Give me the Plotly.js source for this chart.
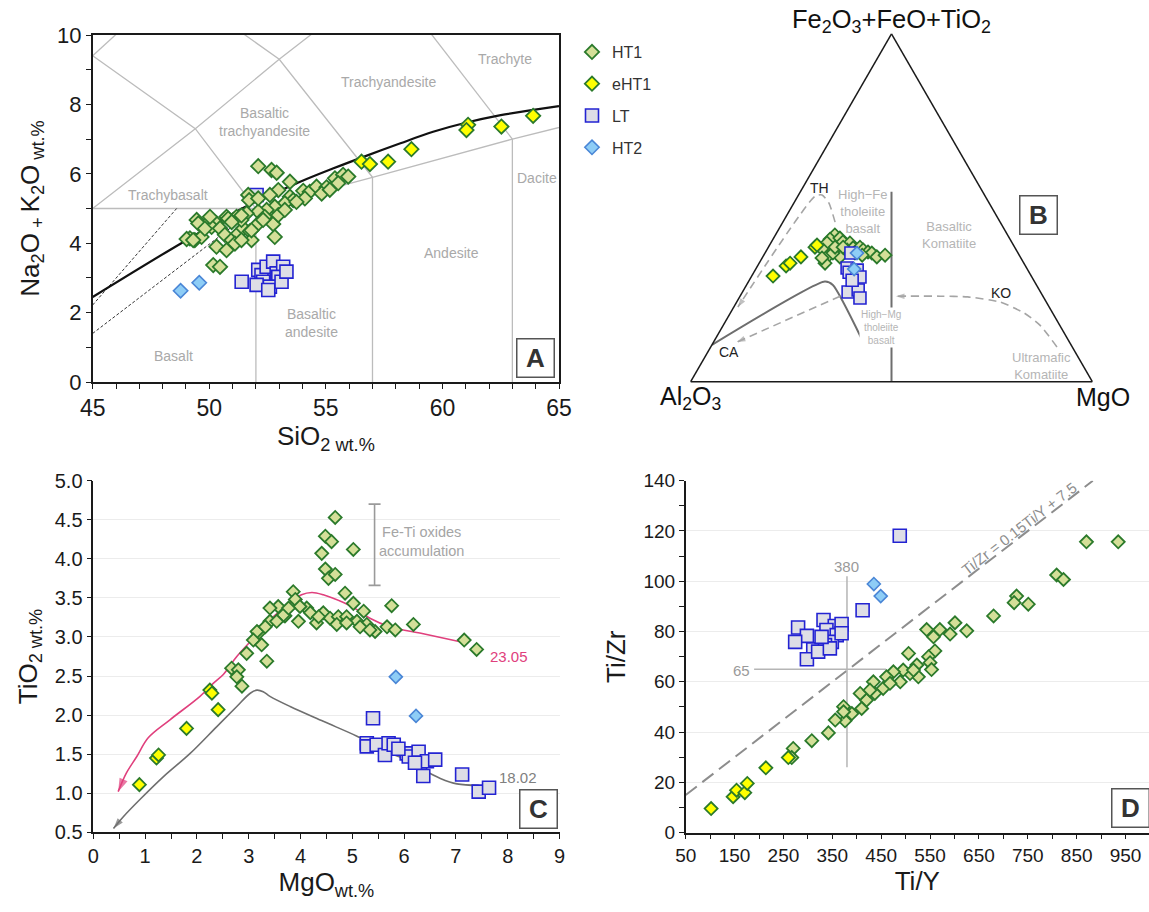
<!DOCTYPE html>
<html><head><meta charset="utf-8">
<script src="https://cdn.plot.ly/plotly-3.0.1.min.js"></script>
<style>html,body{margin:0;padding:0;background:#fff}#chart{width:1149px;height:912px}</style>
</head><body><div id="chart"></div>
<script>
// ================= DATA =================
// Panel A : TAS  (SiO2 wt.%, Na2O+K2O wt.%)
const tasHT1_si  = [52.10,52.67,52.89,51.67,51.71,53.46,52.96,52.60,53.46,54.03,54.31,54.60,55.03,55.39,55.74,55.96,55.53,54.10,53.60,53.24,52.81,52.46,52.10,51.60,51.17,50.74,50.31,49.88,49.46,49.17,49.38,49.67,50.10,50.46,50.67,50.96,51.24,51.46,51.74,52.03,52.38,52.74,52.81,51.81,50.31,50.74,51.10,50.17,50.46,52.31,52.96,53.24,53.74,54.82,55.17,52.10,51.38,50.03,49.03,49.31,49.53,50.81,51.38,51.81,51.38,50.96,49.81];
const tasHT1_alk = [6.22,6.11,6.03,5.39,5.24,5.77,5.53,5.39,5.34,5.51,5.48,5.63,5.61,5.87,5.97,5.92,5.73,5.29,5.24,5.15,5.05,4.96,4.91,4.86,4.76,4.76,4.57,4.55,4.67,4.14,4.09,4.18,4.47,4.43,4.24,4.09,4.28,4.43,4.34,4.52,4.76,4.55,4.18,4.09,3.90,3.80,3.99,3.37,3.32,4.67,4.81,4.96,5.19,5.43,5.54,5.29,4.67,4.76,4.12,4.09,4.57,4.71,4.80,4.37,4.09,4.61,4.42];
const tasEHT1_si  = [56.53,56.89,57.67,58.67,61.10,61.03,62.53,63.89];
const tasEHT1_alk = [6.35,6.28,6.35,6.71,7.41,7.26,7.36,7.67];
const tasLT_si  = [51.39,52.10,52.24,52.46,52.74,52.89,53.17,52.96,52.31,52.60,52.03,52.53,53.10,53.31,52.03];
const tasLT_alk = [2.89,3.23,3.08,3.32,3.47,3.13,3.32,3.03,2.89,2.75,2.80,2.65,2.89,3.18,5.39];
const tasHT2_si  = [48.77,49.57];
const tasHT2_alk = [2.63,2.86];

// TAS field boundaries (Le Bas et al.) and alkaline/subalkaline divides
const tasL1_x = [45,48.4],            tasL1_y = [9.4,11.5];
const tasL2_x = [45,49.4,53,57.6],    tasL2_y = [5,7.3,9.3,11.7];
const tasL3_x = [45,49.4,52],         tasL3_y = [9.4,7.3,5];
const tasL4_x = [48.4,53,57],         tasL4_y = [11.5,9.3,5.9];
const tasL5_x = [57.6,63],            tasL5_y = [11.7,7];
const tasL6_x = [45,52,57,63,69],     tasL6_y = [5,5,5.9,7,8];
const tasV_x  = [52,52,null,57,57,null,63,63];
const tasV_y  = [0,5,null,0,5.9,null,0,7];
const alkCurve_x = [45,48.8,51.7,53.9,55.3,56.7,58.2,59.6,61,62.5,63.9,65];
const alkCurve_y = [2.45,4.0,5.1,5.77,6.15,6.51,6.88,7.21,7.47,7.69,7.84,7.95];
const alkDash1_x = [45,48.6], alkDash1_y = [2.22,5.0];
const alkDash2_x = [45,52],   alkDash2_y = [1.4,5.0];

// Panel B : ternary (Fe2O3+FeO+TiO2 , Al2O3 , MgO) %
const terHT1_fe = [42.2,41.0,41.3,39.9,40.2,39.9,37.9,36.2,34.1,37.9,35.9,37.9,38.5,38.7,37.9,37.3,37.0,35.9,36.4,37.0,37.0,36.4,35.6,38.7,38.7];
const terHT1_al = [43.0,44.8,42.2,46.1,42.0,40.4,48.1,47.7,49.5,44.4,44.9,42.1,40.3,38.5,38.1,37.2,36.4,35.7,33.4,46.1,40.6,39.1,49.5,44.7,42.7];
const terHT1_mg = [14.8,14.2,16.5,14.0,17.8,19.7,14.0,16.1,16.4,17.7,19.2,20.0,21.2,22.8,24.0,25.5,26.6,28.4,30.2,16.9,22.4,24.5,14.9,16.6,18.6];
const terEHT1_fe = [30.4,33.3,34.1,35.9,38.7,39.3];
const terEHT1_al = [64.3,59.6,58.2,54.6,49.7,48.9];
const terEHT1_mg = [5.3,7.1,7.7,9.5,11.6,11.8];
const terLT_fe = [37.0,32.7,31.5,32.1,30.1,25.8,26.4,24.1,29.2];
const terLT_al = [41.6,44.7,44.8,42.5,42.8,47.9,45.1,45.8,45.2];
const terLT_mg = [21.4,22.6,23.7,25.4,27.1,26.3,28.5,30.1,25.6];
const terHT2_fe = [37.0,32.4], terHT2_al = [40.1,43.1], terHT2_mg = [22.9,24.5];
// ternary reference lines
const terKomLine_fe = [0,54.6],  terKomLine_al = [50,22.7],  terKomLine_mg = [50,22.7];
const terCAB_fe = [10.6,28.8,27.8,12.0], terCAB_al = [89.4,52.2,50.7,51.3], terCAB_mg = [0,19.0,21.5,36.7];
const terTH_fe = [45.9,51.4,53.7,53.4,21.5], terTH_al = [41.1,39.9,40.45,42.3,77.5], terTH_mg = [13.0,8.7,5.85,4.3,1.0];
const terCA_fe = [24.6,11.4], terCA_al = [50.5,82.8], terCA_mg = [24.9,5.8];
const terKO_fe = [10.0,16.3,19.8,22.9,24.4,24.6,24.6], terKO_al = [3.8,4.9,7.1,11.5,18.8,25.6,36.6], terKO_mg = [86.2,78.8,73.1,65.6,56.8,49.8,38.8];

// Panel C : MgO vs TiO2 (wt.%)
const cHT1_mg = [4.67,4.48,4.60,4.41,5.02,4.48,4.54,4.67,3.86,3.90,4.86,5.02,5.22,5.76,6.18,7.16,7.40,3.57,3.70,4.12,4.19,4.31,4.44,4.57,4.73,4.89,5.09,5.28,5.44,5.67,5.83,4.70,3.96,3.41,3.19,3.16,3.09,3.25,3.35,2.96,2.67,2.80,2.77,2.87,3.99,3.41,3.67,3.77,3.54,3.32,5.15,5.34,4.89,4.35];
const cHT1_ti = [4.53,4.29,4.22,4.07,4.12,3.87,3.75,3.80,3.58,3.48,3.56,3.43,3.33,3.40,3.16,2.96,2.84,3.39,3.27,3.37,3.31,3.18,3.31,3.24,3.26,3.26,3.20,3.16,3.07,3.13,3.09,3.16,3.20,3.20,3.05,3.07,2.96,2.90,2.69,2.79,2.60,2.58,2.49,2.37,3.39,3.37,3.28,3.37,3.20,3.13,3.13,3.09,3.18,3.26];
const cEHT1_mg = [0.89,1.22,1.26,1.80,2.25,2.29,2.41];
const cEHT1_ti = [1.11,1.45,1.49,1.83,2.32,2.28,2.07];
const cLT_mg = [5.40,5.28,5.28,5.47,5.63,5.70,5.80,6.05,6.09,6.28,6.31,6.44,6.60,6.37,7.12,7.44,7.64,6.21,5.89];
const cLT_ti = [1.96,1.64,1.60,1.62,1.49,1.64,1.62,1.51,1.47,1.53,1.39,1.41,1.43,1.22,1.24,1.02,1.07,1.39,1.57];
const cHT2_mg = [5.84,6.23], cHT2_ti = [2.49,1.99];
const cLLD2305_mg = [7.15,6.37,5.73,5.34,5.09,4.83,4.44,4.22,4.02,3.80,3.51,3.22,3.03,2.77,2.51,2.32,2.06,1.48,1.06,0.84,0.64,0.48];
const cLLD2305_ti = [2.93,3.04,3.13,3.24,3.35,3.44,3.54,3.57,3.54,3.43,3.28,3.07,2.94,2.75,2.52,2.41,2.24,1.94,1.71,1.47,1.26,1.02];
const cLLD1802_mg = [7.44,7.02,6.70,6.37,6.05,5.73,5.41,5.09,4.44,3.80,3.41,3.28,3.16,3.03,2.77,2.38,1.87,1.35,0.90,0.58,0.39];
const cLLD1802_ti = [1.10,1.12,1.19,1.30,1.43,1.51,1.62,1.73,1.92,2.11,2.24,2.30,2.32,2.28,2.11,1.85,1.51,1.21,0.92,0.70,0.55];
const cFeTi_mg = [5.43], cFeTi_mid = [4.18], cFeTi_half = [0.52];

// Panel D : Ti/Y vs Ti/Zr
const dHT1_tiy = [870,935,809,823,727,722,751,680,601,570,543,557,591,625,506,560,547,550,553,523,526,509,495,489,475,461,454,434,437,420,407,410,390,373,376,356,342,308,270,267,373,427,468,516];
const dHT1_tizr = [115.7,115.7,102.5,100.7,94.1,91.5,90.9,86.2,83.5,80.8,80.8,77.9,79.0,80.3,71.3,72.3,70.0,67.6,64.9,66.7,62.0,63.3,64.7,60.0,64.0,62.0,57.4,60.0,55.4,52.7,55.4,49.4,47.4,50.1,44.5,44.8,39.7,36.6,33.5,29.9,48.1,56.7,59.4,64.7];
const dEHT1_tiy = [102,147,154,171,176,214,260];
const dEHT1_tizr = [9.6,14.3,16.9,15.9,19.6,25.8,29.9];
const dLT_tiy = [488,412,280,298,274,311,298,332,355,369,338,359,349,335,321,369,345,328];
const dLT_tizr = [118.1,88.5,81.6,78.3,75.9,72.9,69.0,84.6,82.2,83.0,80.6,78.6,75.9,74.6,72.0,79.3,73.3,77.9];
const dHT2_tiy = [435,449], dHT2_tizr = [98.9,94.1];
const dDivide_tiy = [50,883];          // Ti/Zr = 0.15 Ti/Y + 7.5
const dRef380_tiy = [380,380], dRef380_tizr = [26,102];
const dRef65_tiy = [190,460],  dRef65_tizr = [65,65];

// ================= STYLES =================
const FONT = 'Liberation Sans, Arial, Helvetica, sans-serif';
const GREEN_EDGE = '#2b7a2b';
const sty = {
  HT1:  {symbol:'diamond', color:'#d4df98', line:{color:GREEN_EDGE, width:1.8}},
  eHT1: {symbol:'diamond', color:'#ffff00', line:{color:GREEN_EDGE, width:1.8}},
  LT:   {symbol:'square',  color:'#dedee6', line:{color:'#2323d2', width:1.6}},
  HT2:  {symbol:'diamond', color:'#8ecdf6', line:{color:'#4a86d6', width:1.6}}
};
const rank = {HT1:1, eHT1:2, LT:3, HT2:4};
function mk(name, size){ return Object.assign({}, sty[name], {size:size}); }
function pts(name, x, y, xa, ya, size, legend){
  return {type:'scatter', mode:'markers', name:name, x:x, y:y, xaxis:xa, yaxis:ya,
    marker:mk(name,size), showlegend:!!legend, legendgroup:name, legendrank:rank[name], hoverinfo:'x+y+name', cliponaxis:false};
}
function ln(x, y, xa, ya, color, width, dash, shape){
  return {type:'scatter', mode:'lines', x:x, y:y, xaxis:xa, yaxis:ya, showlegend:false, hoverinfo:'skip',
    line:{color:color, width:width, dash:dash||'solid', shape:shape||'linear'}, connectgaps:false};
}
function arrowMarkers(n, size, color){
  const sym = [], sz = [];
  for(let i=0;i<n;i++){ sym.push(i===n-1?'arrow':'circle'); sz.push(i===n-1?size:0); }
  return {symbol:sym, size:sz, color:color, angleref:'previous', line:{width:0}};
}
function tline(a,b,c,color,width,dash,arrowSize){
  const t = {type:'scatterternary', mode: arrowSize?'lines+markers':'lines', a:a, b:b, c:c, subplot:'ternary',
    showlegend:false, hoverinfo:'skip', line:{color:color, width:width, dash:dash||'solid', shape:'spline', smoothing:0.6}};
  if(arrowSize) t.marker = arrowMarkers(a.length, arrowSize, color);
  return t;
}
function tpts(name, a, b, c, size){
  return {type:'scatterternary', mode:'markers', name:name, a:a, b:b, c:c, subplot:'ternary',
    marker:mk(name,size), showlegend:false, legendgroup:name, hoverinfo:'name'};
}

const GRAYLINE = '#bcbcbc';
const traces = [];
// ---- A ----
[[tasL1_x,tasL1_y],[tasL2_x,tasL2_y],[tasL3_x,tasL3_y],[tasL4_x,tasL4_y],[tasL5_x,tasL5_y],[tasL6_x,tasL6_y],[tasV_x,tasV_y]]
  .forEach(p => traces.push(ln(p[0],p[1],'x','y',GRAYLINE,1.3)));
traces.push(ln(alkDash1_x, alkDash1_y, 'x','y','#333',1,'3px,2px'));
traces.push(ln(alkDash2_x, alkDash2_y, 'x','y','#333',1,'3px,2px'));
traces.push(ln(alkCurve_x, alkCurve_y, 'x','y','#111',2.2,'solid','spline'));
traces.push(pts('LT', tasLT_si, tasLT_alk, 'x','y',13,true));
traces.push(pts('HT2', tasHT2_si, tasHT2_alk, 'x','y',11,true));
traces.push(pts('HT1', tasHT1_si, tasHT1_alk, 'x','y',11,true));
traces.push(pts('eHT1', tasEHT1_si, tasEHT1_alk, 'x','y',11,true));

// ---- B (ternary) ----
traces.push(tline(terKomLine_fe, terKomLine_al, terKomLine_mg, '#6e6e6e', 2));
traces.push(tline(terCAB_fe, terCAB_al, terCAB_mg, '#6e6e6e', 2));
traces.push(tline(terTH_fe, terTH_al, terTH_mg, '#a5a5a5', 1.6, '8px,5px', 9));
traces.push(tline(terCA_fe, terCA_al, terCA_mg, '#a5a5a5', 1.6, '8px,5px', 9));
traces.push(tline(terKO_fe, terKO_al, terKO_mg, '#a5a5a5', 1.6, '8px,5px', 9));
traces.push(tpts('HT1', terHT1_fe, terHT1_al, terHT1_mg, 10));
traces.push(tpts('eHT1', terEHT1_fe, terEHT1_al, terEHT1_mg, 10));
traces.push(tpts('LT', terLT_fe, terLT_al, terLT_mg, 12));
traces.push(tpts('HT2', terHT2_fe, terHT2_al, terHT2_mg, 10));

// ---- C ----
traces.push({type:'scatter', mode:'markers', x:cFeTi_mg, y:cFeTi_mid, xaxis:'x2', yaxis:'y2', showlegend:false, hoverinfo:'skip',
  marker:{size:1, color:'rgba(0,0,0,0)'},
  error_y:{type:'data', array:cFeTi_half, symmetric:true, color:'#9a9a9a', thickness:1.6, width:6}});
(function(){
  const p = ln(cLLD2305_mg, cLLD2305_ti, 'x2','y2','#e0407d',1.6,'solid','spline');
  p.mode = 'lines+markers'; p.marker = arrowMarkers(cLLD2305_mg.length, 14, '#e0407d'); traces.push(p);
  const g = ln(cLLD1802_mg, cLLD1802_ti, 'x2','y2','#6f6f6f',1.6,'solid','spline');
  g.mode = 'lines+markers'; g.marker = arrowMarkers(cLLD1802_mg.length, 11, '#6f6f6f'); traces.push(g);
})();
traces.push(pts('HT1', cHT1_mg, cHT1_ti, 'x2','y2',10));
traces.push(pts('eHT1', cEHT1_mg, cEHT1_ti, 'x2','y2',10));
traces.push(pts('LT', cLT_mg, cLT_ti, 'x2','y2',13));
traces.push(pts('HT2', cHT2_mg, cHT2_ti, 'x2','y2',10));

// ---- D ----
traces.push(ln(dDivide_tiy, dDivide_tiy.map(v => 0.15*v + 7.5), 'x3','y3','#8d8d8d',2,'14px,7px'));
traces.push(ln(dRef380_tiy, dRef380_tizr, 'x3','y3','#b5b5b5',1.5));
traces.push(ln(dRef65_tiy, dRef65_tizr, 'x3','y3','#b5b5b5',1.5));
traces.push(pts('LT', dLT_tiy, dLT_tizr, 'x3','y3',13));
traces.push(pts('HT2', dHT2_tiy, dHT2_tizr, 'x3','y3',10));
traces.push(pts('HT1', dHT1_tiy, dHT1_tizr, 'x3','y3',10));
traces.push(pts('eHT1', dEHT1_tiy, dEHT1_tizr, 'x3','y3',10));

// ================= LAYOUT =================
const W = 1149, H = 912;
const fx = v => v / W, fy = v => 1 - v / H;
const baseAxis = {showline:true, linecolor:'#1a1a1a', linewidth:1.5, ticks:'outside', ticklen:5, tickwidth:1.3,
  tickcolor:'#1a1a1a', zeroline:false, showgrid:false, fixedrange:true,
  tickfont:{family:FONT, size:20, color:'#1a1a1a'}};
function ax(o){ return Object.assign({}, baseAxis, o); }
const titleFont = {family:FONT, size:26, color:'#1a1a1a'};
const tAx = {showline:true, linecolor:'#1a1a1a', linewidth:1.5, showgrid:false, showticklabels:false, ticks:'',
  tickmode:'array', tickvals:[], title:{text:''}};

const gray = '#a9a9a9';
function lab(text, x, y, xref, yref, size, color, extra){
  return Object.assign({text:text, x:x, y:y, xref:xref, yref:yref, showarrow:false, xanchor:'center', yanchor:'middle',
    font:{family:FONT, size:size, color:color}}, extra||{});
}
function paperLab(text, x, y, size, color, extra){ return lab(text, fx(x), fy(y), 'paper','paper', size, color, extra); }
function box(letter, x, y){
  return paperLab('<b>'+letter+'</b>', x, y, 26, '#333', {bordercolor:'#555', borderwidth:1.5, borderpad:2, bgcolor:'#fff', width:32, height:33});
}

const annotations = [
  // A field names
  lab('Trachyte', 62.7, 9.3, 'x','y',14,gray),
  lab('Trachyandesite', 57.67, 8.64, 'x','y',14,gray),
  lab('Basaltic<br>trachyandesite', 52.35, 7.5, 'x','y',14,gray),
  lab('Trachybasalt', 48.24, 5.39, 'x','y',14,gray),
  lab('Dacite', 64.05, 5.87, 'x','y',14,gray),
  lab('Andesite', 60.4, 3.72, 'x','y',14,gray),
  lab('Basaltic<br>andesite', 54.4, 1.71, 'x','y',14,gray),
  lab('Basalt', 48.45, 0.76, 'x','y',14,gray),
  box('A', 535, 357.5),
  // B labels
  paperLab('Fe<sub>2</sub>O<sub>3</sub>+FeO+TiO<sub>2</sub>', 891, 21, 25.5, '#111'),
  paperLab('Al<sub>2</sub>O<sub>3</sub>', 690, 398, 25, '#111'),
  paperLab('MgO', 1103, 397, 25, '#111'),
  paperLab('TH', 819.5, 188, 14, '#222'),
  paperLab('CA', 728.5, 352, 14, '#222'),
  paperLab('KO', 1000.5, 293, 14, '#222'),
  paperLab('High\u2212Fe<br>tholeiite<br>basalt', 863, 212, 13, '#b5b5b5'),
  paperLab('Basaltic<br>Komatiite', 949, 235, 13, '#b5b5b5'),
  paperLab('High\u2212Mg<br>tholeiite<br>basalt', 881, 327, 10, '#b5b5b5', {bgcolor:'#fff'}),
  paperLab('Ultramafic<br>Komatiite', 1041, 365.5, 13, '#b5b5b5'),
  box('B', 1038, 215),
  // C labels
  lab('Fe-Ti oxides<br>accumulation', 6.34, 4.22, 'x2','y2',14.5,'#a5a5a5'),
  lab('23.05', 8.03, 2.75, 'x2','y2',15,'#e0407d'),
  lab('18.02', 8.19, 1.20, 'x2','y2',15,'#808080'),
  box('C', 538, 809),
  // D labels
  lab('380', 378, 106, 'x3','y3',15,'#9a9a9a'),
  lab('65', 164, 64.7, 'x3','y3',15,'#9a9a9a'),
  lab('Ti/Zr = 0.15Ti/Y + 7.5', 732, 121, 'x3','y3',15,'#8d8d8d', {textangle:-37.7}),
  box('D', 1130, 808)
];

const layout = {
  width:W, height:H, margin:{l:0,r:0,t:0,b:0}, paper_bgcolor:'#fff', plot_bgcolor:'#fff',
  font:{family:FONT, color:'#1a1a1a'}, hovermode:'closest',
  showlegend:true,
  legend:{x:fx(572), y:fy(35), xanchor:'left', yanchor:'top', font:{family:FONT, size:16, color:'#333'},
    tracegroupgap:8, bgcolor:'rgba(0,0,0,0)', itemclick:false, itemdoubleclick:false},
  // A
  xaxis: ax({domain:[fx(92.7), fx(559)], range:[45,65], dtick:5, tick0:45, mirror:true, anchor:'y',
    tickfont:{family:FONT, size:23, color:'#1a1a1a'}, minor:{dtick:1, ticks:'outside', ticklen:5, tickcolor:'#1a1a1a'},
    title:{text:'SiO<sub>2 wt.%</sub>', font:titleFont, standoff:6}}),
  yaxis: ax({domain:[fy(382), fy(35)], range:[0,10], dtick:2, mirror:true, anchor:'x',
    tickfont:{family:FONT, size:22, color:'#1a1a1a'}, minor:{dtick:1, ticks:'outside', ticklen:5, tickcolor:'#1a1a1a'},
    title:{text:'Na<sub>2</sub>O<sub> + </sub>K<sub>2</sub>O<sub> wt.%</sub>', font:titleFont, standoff:10}}),
  // C
  xaxis2: ax({domain:[fx(93.3), fx(559.5)], range:[0,9], dtick:1, anchor:'y2',
    minor:{dtick:0.5, ticks:'outside', ticklen:5, tickcolor:'#1a1a1a'},
    title:{text:'MgO<sub>wt.%</sub>', font:titleFont, standoff:6}}),
  yaxis2: ax({domain:[fy(832.3), fy(480.7)], range:[0.5,5.0], dtick:0.5, tick0:0.5, tickformat:'.1f', anchor:'x2',
    showgrid:true, gridcolor:'#ececec', gridwidth:1.2,
    title:{text:'TiO<sub>2 wt.%</sub>', font:titleFont, standoff:10}}),
  // D
  xaxis3: ax({domain:[fx(685.7), 1], range:[50,998], tick0:50, dtick:100, anchor:'y3',
    tickfont:{family:FONT, size:19, color:'#1a1a1a'}, minor:{dtick:50, ticks:'outside', ticklen:5, tickcolor:'#1a1a1a'},
    title:{text:'Ti/Y', font:titleFont, standoff:6}}),
  yaxis3: ax({domain:[fy(832.7), fy(480.7)], range:[0,140], dtick:20, anchor:'x3',
    tickfont:{family:FONT, size:19, color:'#1a1a1a'}, minor:{dtick:10, ticks:'outside', ticklen:5, tickcolor:'#1a1a1a'},
    showgrid:true, gridcolor:'#ececec', gridwidth:1.2,
    title:{text:'Ti/Zr', font:titleFont, standoff:10}}),
  ternary: {domain:{x:[fx(690.7), fx(1092.3)], y:[fy(397.85), fy(17.85)]}, sum:100, bgcolor:'rgba(0,0,0,0)',
    aaxis:tAx, baxis:tAx, caxis:tAx},
  annotations: annotations
};

Plotly.newPlot('chart', traces, layout, {displayModeBar:false, staticPlot:false, responsive:false});
</script></body></html>
